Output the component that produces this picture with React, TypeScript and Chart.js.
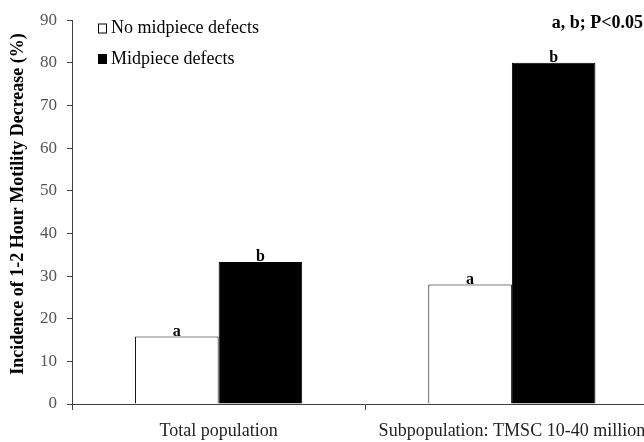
import React, { useEffect, useRef } from "react";
import { Chart, registerables } from "chart.js";

Chart.register(...registerables);

const categories = ["Total population", "Subpopulation: TMSC 10-40 million"];
const seriesNames = ["No midpiece defects", "Midpiece defects"];
const noDefectValues = [15.8, 28.0];
const defectValues = [33.3, 80.0];
const noDefectLetters = ["a", "a"];
const defectLetters = ["b", "b"];
const yMin = 0;
const yMax = 90;
const yStep = 10;
const yTitle = "Incidence of 1-2 Hour Motility Decrease (%)";
const noteText = "a, b; P<0.05";

const FONT = "'Liberation Serif', 'Times New Roman', serif";

export default function App() {
  const ref = useRef<HTMLCanvasElement | null>(null);

  useEffect(() => {
    if (!ref.current) return;
    const lettersPerSet = [noDefectLetters, defectLetters];

    const overlay = {
      id: "overlay",
      afterDraw(chart: any) {
        const ctx = chart.ctx;
        ctx.save();
        // letters over bars
        ctx.fillStyle = "#000";
        ctx.font = `bold 16px ${FONT}`;
        ctx.textAlign = "center";
        ctx.textBaseline = "alphabetic";
        chart.data.datasets.forEach((_ds: any, di: number) => {
          const meta = chart.getDatasetMeta(di);
          meta.data.forEach((bar: any, i: number) => {
            ctx.fillText(lettersPerSet[di][i], bar.x, bar.y - 1);
          });
        });
        // significance note
        ctx.font = `bold 18px ${FONT}`;
        ctx.textAlign = "right";
        ctx.fillText(noteText, 643, 28);
        // y-axis title
        ctx.save();
        ctx.translate(18, 204);
        ctx.rotate(-Math.PI / 2);
        ctx.textAlign = "center";
        ctx.textBaseline = "middle";
        ctx.font = `bold 18px ${FONT}`;
        ctx.fillText(yTitle, 0, 0);
        ctx.restore();
        // legend
        ctx.font = `18px ${FONT}`;
        ctx.textAlign = "left";
        ctx.textBaseline = "middle";
        const rows = [28.5, 59];
        chart.data.datasets.forEach((ds: any, di: number) => {
          const cy = rows[di];
          ctx.fillStyle = ds.backgroundColor;
          ctx.fillRect(98, cy - 5, 9, 10);
          ctx.strokeStyle = "#000";
          ctx.lineWidth = 1;
          ctx.strokeRect(98.5, cy - 4.5, 8, 9);
          ctx.fillStyle = "#000";
          ctx.fillText(ds.label, 111, cy);
        });
        ctx.restore();
      },
    };

    const chart = new Chart(ref.current, {
      type: "bar",
      data: {
        labels: categories,
        datasets: [
          {
            label: seriesNames[0],
            data: noDefectValues,
            backgroundColor: "#ffffff",
            borderColor: "#000000",
            borderWidth: 1,
            categoryPercentage: 0.57,
            barPercentage: 1.0,
          },
          {
            label: seriesNames[1],
            data: defectValues,
            backgroundColor: "#000000",
            borderColor: "#000000",
            borderWidth: 1,
            categoryPercentage: 0.57,
            barPercentage: 1.0,
          },
        ],
      },
      options: {
        animation: false,
        responsive: false,
        maintainAspectRatio: false,
        layout: { padding: { left: 0, right: 1.5, top: 16, bottom: 0 } },
        plugins: {
          legend: { display: false },
          tooltip: { enabled: false },
        },
        scales: {
          x: {
            offset: true,
            grid: {
              offset: true,
              drawOnChartArea: false,
              drawTicks: true,
              tickLength: 6,
              color: "#404040",
            },
            border: { display: true, color: "#404040", width: 1 },
            ticks: {
              color: "#222",
              font: { family: FONT, size: 18 },
              padding: 10,
              maxRotation: 0,
            },
            afterFit(scale: any) {
              scale.height = 38;
            },
          },
          y: {
            min: yMin,
            max: yMax,
            ticks: {
              stepSize: yStep,
              color: "#555",
              font: { family: FONT, size: 17 },
              padding: 10,
            },
            grid: {
              drawOnChartArea: false,
              drawTicks: true,
              tickLength: 5,
              color: "#404040",
            },
            border: { display: true, color: "#404040", width: 1 },
            afterFit(scale: any) {
              scale.width = 72;
            },
          },
        },
      },
      plugins: [overlay],
    });
    return () => chart.destroy();
  }, []);

  return (
    <div
      style={{
        position: "absolute",
        left: 0,
        top: 0,
        width: 644,
        height: 442,
        overflow: "hidden",
        background: "#fff",
      }}
    >
      <canvas ref={ref} width={660} height={442} style={{ display: "block" }} />
    </div>
  );
}
